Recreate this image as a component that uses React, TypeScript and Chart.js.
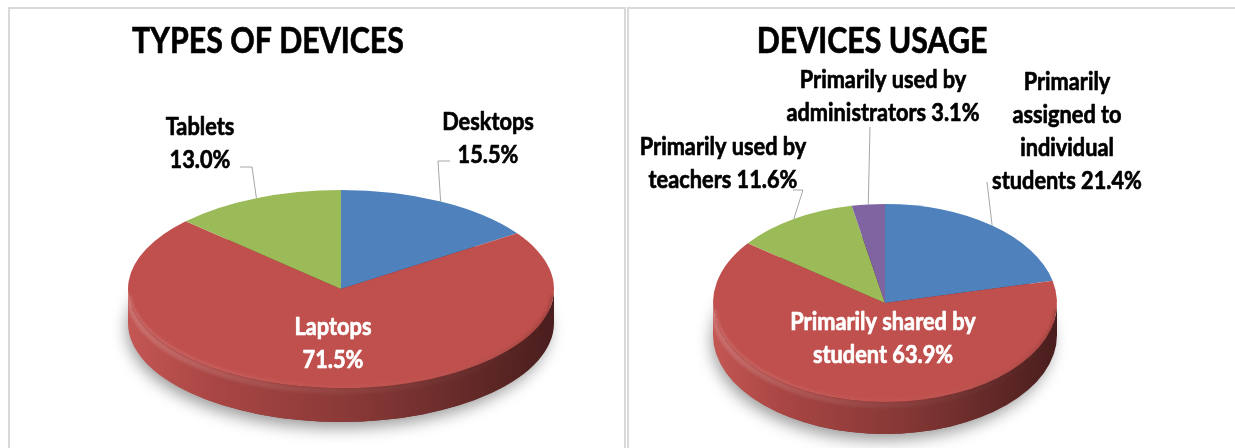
import React, { useEffect, useRef } from "react";
import { Chart, registerables } from "chart.js";

Chart.register(...registerables);

// ---------- Data ----------
const typeCategories = ["Desktops", "Laptops", "Tablets"];
const typeShares = [15.5, 71.5, 13.0];

const usageCategories = [
  "Primarily assigned to individual students",
  "Primarily shared by student",
  "Primarily used by teachers",
  "Primarily used by administrators",
];
const usageShares = [21.4, 63.9, 11.6, 3.1];

// Display line breaks of the category names
const typeLabelLines = [["Desktops"], ["Laptops"], ["Tablets"]];
const usageLabelLines = [
  ["Primarily", "assigned to", "individual", "students"],
  ["Primarily shared by", "student"],
  ["Primarily used by", "teachers"],
  ["Primarily used by", "administrators"],
];

// ---------- Styles ----------
const typeColors = ["#4F81BD", "#C0504D", "#9BBB59"];
const usageColors = ["#4F81BD", "#C0504D", "#9BBB59", "#8064A2"];

type LabelLayout = { x: number; y: number; color: string; leader?: number[][] };
type PanelCfg = {
  title: string;
  titleX: number;
  titleY: number;
  categories: string[];
  values: number[];
  lines: string[][];
  valueOnNewLine: boolean;
  colors: string[];
  geom: { cx: number; cy: number; rx: number; ry: number; depth: number };
  labels: LabelLayout[];
  left: number;
  top: number;
  width: number;
  height: number;
};

const FONT = "Lato, 'Open Sans', sans-serif";
const LABEL_SIZE = 25;
const LABEL_SCALE = 0.87;
const LINE_H = 33;
const TITLE_SIZE = 37;
const TITLE_SCALE = 0.82;

const typePanel: PanelCfg = {
  title: "TYPES OF DEVICES",
  titleX: 258,
  titleY: 32,
  categories: typeCategories,
  values: typeShares,
  lines: typeLabelLines,
  valueOnNewLine: true,
  colors: typeColors,
  geom: { cx: 331, cy: 280, rx: 213, ry: 99, depth: 34 },
  labels: [
    { x: 478, y: 113, color: "#000", leader: [[440, 152], [428, 152]] },
    { x: 323, y: 318, color: "#fff" },
    { x: 190, y: 118, color: "#000", leader: [[230, 158], [242, 158]] },
  ],
  left: 10,
  top: 9,
  width: 614,
  height: 439,
};

const usagePanel: PanelCfg = {
  title: "DEVICES USAGE",
  titleX: 243,
  titleY: 32,
  categories: usageCategories,
  values: usageShares,
  lines: usageLabelLines,
  valueOnNewLine: false,
  colors: usageColors,
  geom: { cx: 256, cy: 294, rx: 172, ry: 99, depth: 32 },
  labels: [
    { x: 438, y: 73, color: "#000", leader: [[358, 173]] },
    { x: 254, y: 313, color: "#fff" },
    { x: 94, y: 138, color: "#000", leader: [[164, 181], [174, 181]] },
    { x: 254, y: 71, color: "#000", leader: [[241, 118]] },
  ],
  left: 629,
  top: 9,
  width: 606,
  height: 439,
};

function shade(hex: string, f: number) {
  const n = parseInt(hex.slice(1), 16);
  let r = (n >> 16) & 255,
    g = (n >> 8) & 255,
    b = n & 255;
  const t = f < 0 ? 0 : 255;
  const p = Math.abs(f);
  r = Math.round(r + (t - r) * p);
  g = Math.round(g + (t - g) * p);
  b = Math.round(b + (t - b) * p);
  return `rgb(${r},${g},${b})`;
}

function drawText(
  ctx: CanvasRenderingContext2D,
  text: string,
  x: number,
  y: number,
  size: number,
  color: string,
  sx: number
) {
  ctx.save();
  ctx.font = `bold ${size}px ${FONT}`;
  ctx.fillStyle = color;
  ctx.strokeStyle = color;
  ctx.lineWidth = 0.7;
  ctx.lineJoin = "round";
  ctx.textAlign = "center";
  ctx.textBaseline = "middle";
  ctx.translate(x, y);
  ctx.scale(sx, 1);
  ctx.fillText(text, 0, 0);
  ctx.strokeText(text, 0, 0);
  ctx.restore();
}

function makePie3d(cfg: PanelCfg) {
  return {
    id: "pie3d",
    beforeDatasetDraw(chart: any, args: any) {
      const ctx: CanvasRenderingContext2D = chart.ctx;
      const arcs = args.meta.data as any[];
      if (!arcs.length) return;
      const { cx, cy, rx, ry, depth } = cfg.geom;
      // soft shadow under the pie
      ctx.save();
      ctx.shadowColor = "rgba(0,0,0,0.4)";
      ctx.shadowBlur = 16;
      ctx.shadowOffsetY = 6;
      ctx.shadowOffsetX = -3;
      ctx.beginPath();
      ctx.ellipse(cx, cy + depth, rx - 2, ry, 0, 0, Math.PI * 2);
      ctx.fillStyle = "#6b2523";
      ctx.fill();
      ctx.restore();
      // side walls (front half only)
      arcs.forEach((arc, i) => {
        const a1 = Math.max(arc.startAngle, 0);
        const a2 = Math.min(arc.endAngle, Math.PI);
        if (a2 <= a1) return;
        const base = cfg.colors[i];
        const g = ctx.createLinearGradient(cx - rx, 0, cx + rx, 0);
        g.addColorStop(0, shade(base, 0.04));
        g.addColorStop(0.2, shade(base, -0.12));
        g.addColorStop(0.55, shade(base, -0.3));
        g.addColorStop(1, shade(base, -0.62));
        ctx.beginPath();
        ctx.ellipse(cx, cy, rx, ry, 0, a1, a2, false);
        ctx.ellipse(cx, cy + depth, rx, ry, 0, a2, a1, true);
        ctx.closePath();
        ctx.fillStyle = g;
        ctx.fill();
        // soft rim highlight on the upper part of the wall
        ctx.save();
        ctx.clip();
        const h = ctx.createLinearGradient(cx - rx, 0, cx + rx, 0);
        h.addColorStop(0, "rgba(255,255,255,0.16)");
        h.addColorStop(0.5, "rgba(255,255,255,0.05)");
        h.addColorStop(1, "rgba(255,255,255,0)");
        ctx.beginPath();
        ctx.ellipse(cx, cy + 3, rx, ry, 0, a1, a2, false);
        ctx.lineWidth = 6;
        ctx.strokeStyle = h;
        ctx.filter = "blur(1.5px)";
        ctx.stroke();
        ctx.restore();
      });
      // map the library's round pie onto the tilted top face
      const a0 = arcs[0];
      const R = a0.outerRadius;
      ctx.save();
      ctx.translate(cx, cy);
      ctx.scale(rx / R, ry / R);
      ctx.translate(-a0.x, -a0.y);
    },
    afterDatasetDraw(chart: any) {
      const ctx: CanvasRenderingContext2D = chart.ctx;
      ctx.restore();
      const { cx, cy, rx, ry } = cfg.geom;
      // subtle bevel on the top face edge
      ctx.save();
      ctx.beginPath();
      ctx.ellipse(cx, cy, rx, ry, 0, 0, Math.PI * 2);
      ctx.clip();
      const g = ctx.createLinearGradient(cx - rx, 0, cx + rx, 0);
      g.addColorStop(0, "rgba(255,255,255,0.12)");
      g.addColorStop(0.5, "rgba(255,255,255,0.02)");
      g.addColorStop(1, "rgba(0,0,0,0.12)");
      ctx.beginPath();
      ctx.ellipse(cx, cy, rx, ry, 0, Math.PI * 0.02, Math.PI * 0.98);
      ctx.lineWidth = 6;
      ctx.strokeStyle = g;
      ctx.filter = "blur(1px)";
      ctx.stroke();
      ctx.restore();
    },
    afterDraw(chart: any) {
      const ctx: CanvasRenderingContext2D = chart.ctx;
      const arcs = chart.getDatasetMeta(0).data as any[];
      const { cx, cy, rx, ry } = cfg.geom;
      drawText(ctx, cfg.title, cfg.titleX, cfg.titleY, TITLE_SIZE, "#000", TITLE_SCALE);
      cfg.labels.forEach((lab, i) => {
        const arc = arcs[i];
        if (!arc) return;
        const val = `${cfg.values[i].toFixed(1)}%`;
        const lines = cfg.lines[i].slice();
        if (cfg.valueOnNewLine) lines.push(val);
        else lines[lines.length - 1] = `${lines[lines.length - 1]} ${val}`;
        if (lab.leader) {
          const mid = (arc.startAngle + arc.endAngle) / 2;
          const ex = cx + rx * Math.cos(mid);
          const ey = cy + ry * Math.sin(mid);
          ctx.save();
          ctx.beginPath();
          ctx.moveTo(lab.leader[0][0], lab.leader[0][1]);
          for (let k = 1; k < lab.leader.length; k++) ctx.lineTo(lab.leader[k][0], lab.leader[k][1]);
          ctx.lineTo(ex, ey);
          ctx.strokeStyle = "#a6a6a6";
          ctx.lineWidth = 1;
          ctx.stroke();
          ctx.restore();
        }
        lines.forEach((t, k) =>
          drawText(ctx, t, lab.x, lab.y + k * LINE_H, LABEL_SIZE, lab.color, LABEL_SCALE)
        );
      });
    },
  };
}

function PiePanel({ cfg }: { cfg: PanelCfg }) {
  const ref = useRef<HTMLCanvasElement | null>(null);
  useEffect(() => {
    if (!ref.current) return;
    const chart = new Chart(ref.current, {
      type: "pie",
      data: {
        labels: cfg.categories,
        datasets: [
          {
            data: cfg.values,
            backgroundColor: cfg.colors,
            borderWidth: 0,
            clip: false as any,
          },
        ],
      },
      options: {
        responsive: false,
        maintainAspectRatio: false,
        animation: false,
        events: [],
        layout: { padding: 10 },
        plugins: {
          legend: { display: false },
          tooltip: { enabled: false },
          title: { display: false },
        },
      },
      plugins: [makePie3d(cfg) as any],
    });
    return () => chart.destroy();
  }, [cfg]);
  return (
    <canvas
      ref={ref}
      width={cfg.width}
      height={cfg.height}
      style={{ position: "absolute", left: cfg.left, top: cfg.top, width: cfg.width, height: cfg.height }}
    />
  );
}

export default function App() {
  const border = "2px solid #d9d9d9";
  return (
    <div style={{ position: "fixed", left: 0, top: 0, width: 1235, height: 448, overflow: "hidden", background: "#fff" }}>
      <div
        style={{
          position: "absolute",
          left: 8,
          top: 7,
          width: 614,
          height: 460,
          borderLeft: border,
          borderTop: border,
          borderRight: border,
        }}
      />
      <div
        style={{
          position: "absolute",
          left: 627,
          top: 7,
          width: 640,
          height: 460,
          borderLeft: border,
          borderTop: border,
        }}
      />
      <PiePanel cfg={typePanel} />
      <PiePanel cfg={usagePanel} />
    </div>
  );
}
